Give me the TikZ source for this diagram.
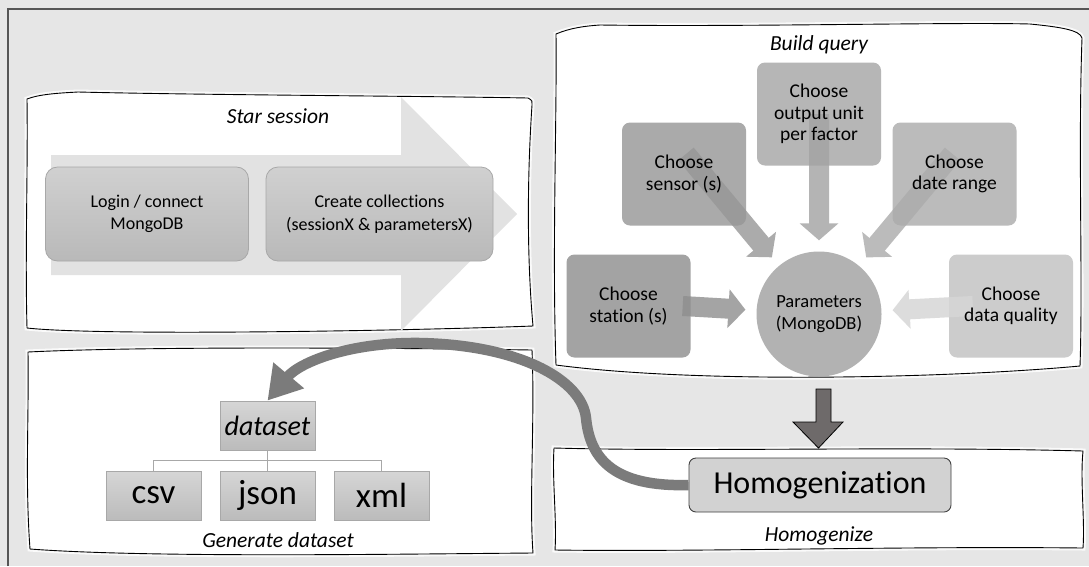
\documentclass[tikz,border=0pt]{standalone}
\usepackage{fontspec}
\setmainfont{Carlito}[Ligatures=CommonOff]
\usetikzlibrary{arrows.meta,calc,shapes.geometric}

\definecolor{bgcol}{HTML}{E6E6E6}
\definecolor{framecol}{HTML}{555555}
\definecolor{flowcol}{HTML}{E2E2E2}
\definecolor{stepline}{HTML}{A8A8A8}
\definecolor{curvecol}{HTML}{7B7B7B}
\definecolor{darkarrow}{HTML}{6E6A6A}
\definecolor{steptop}{HTML}{D0D0D0}
\definecolor{stepbot}{HTML}{B9B9B9}
\definecolor{filetop}{HTML}{D6D6D6}
\definecolor{filebot}{HTML}{BBBBBB}
\definecolor{cstation}{HTML}{A3A3A3}
\definecolor{csensor}{HTML}{AAAAAA}
\definecolor{cunit}{HTML}{B6B6B6}
\definecolor{crange}{HTML}{BBBBBB}
\definecolor{cquality}{HTML}{CCCCCC}
\definecolor{cparam}{HTML}{B2B2B2}
\definecolor{astation}{HTML}{8E8E8E}
\definecolor{asensor}{HTML}{969696}
\definecolor{aunit}{HTML}{A2A2A2}
\definecolor{arange}{HTML}{ABABAB}
\definecolor{aquality}{HTML}{D6D6D6}

\tikzset{
  sketch/.style={fill=white, draw=black, line width=0.9pt, line join=round},
  glow/.style={draw=white, line width=5pt, opacity=0.8},
  title/.style={font=\fontsize{21.5}{26}\selectfont\itshape},
  stepbox/.style={rounded corners=12pt, draw=stepline, line width=0.8pt,
    top color=steptop, bottom color=stepbot, minimum width=203pt, minimum height=94pt,
    align=center, font=\fontsize{18}{22.5}\selectfont},
  choicebox/.style={rounded corners=8pt, fill=#1, minimum width=124pt, minimum height=103pt},
  choicetext/.style={align=center, font=\fontsize{19.5}{21.5}\selectfont},
  radarrow/.style={line width=20pt, -{Triangle[length=17pt,width=38pt]}, draw=#1, shorten >=11pt},
  filebox/.style={draw=stepline, line width=0.8pt, top color=filetop, bottom color=filebot,
    minimum width=95pt, minimum height=49pt, inner sep=0pt},
  treeline/.style={draw=stepline, line width=0.9pt},
}

\begin{document}
\begin{tikzpicture}[x=1pt,y=-1pt]
\useasboundingbox (0,0) rectangle (1089,566);
% canvas and outer frame
\fill[bgcol] (0,0) rectangle (1089,566);
\draw[framecol, line width=1.2pt] (8,566) -- (8,9) -- (1089,9);

% ---------- hand drawn panels ----------
\def\starpanel{(27,99) .. controls (40,94) and (60,93) .. (78,92) .. controls (200,95) and (420,96) .. (528,98) .. controls (532,100) and (533,102) .. (532,105) .. controls (527,180) and (527,260) .. (533,326) .. controls (400,331) and (100,336) .. (27,328) .. controls (25,250) and (28,170) .. cycle}
\def\querypanel{(556,34) .. controls (570,28) and (585,26) .. (600,25) .. controls (750,27) and (950,22) .. (1030,24) .. controls (1060,27) and (1080,30) .. (1082,38) .. controls (1078,150) and (1083,280) .. (1080,366) .. controls (950,378) and (700,384) .. (556,365) .. controls (552,250) and (557,120) .. cycle}
\def\homopanel{(554,448) .. controls (700,452) and (900,446) .. (1083,451) .. controls (1080,480) and (1085,520) .. (1083,548) .. controls (900,546) and (700,552) .. (555,550) .. controls (557,520) and (552,480) .. cycle}
\def\genpanel{(28,352) .. controls (150,346) and (400,348) .. (532,350) .. controls (535,420) and (529,500) .. (533,553) .. controls (400,554) and (150,558) .. (30,549) .. controls (25,480) and (29,420) .. cycle}

\foreach \p in {\starpanel,\querypanel,\homopanel,\genpanel}{\path[glow] \p;}
\path[sketch] \starpanel;
\path[sketch] \querypanel;
\path[sketch] \homopanel;
\path[sketch] \genpanel;

% ---------- Star session ----------
\fill[flowcol] (51,155) -- (401,155) -- (401,97) -- (517,214) -- (401,331) -- (401,275) -- (51,275) -- cycle;
\node[title] (startitle) at (278,116) {Star session};
\node[stepbox] (login) at (147,214) {Login / connect\\MongoDB};
\node[stepbox, minimum width=227pt] (collect) at (379.5,214) {Create collections\\(sessionX \& parametersX)};

% ---------- Build query ----------
\node[title] (querytitle) at (819,45) {Build query};
\node[circle, fill=cparam, minimum size=125pt, inner sep=0pt] (param) at (819,314) {};
\node[choicebox=cstation] (station) at (628.5,306) {};
\node[choicebox=csensor] (sensor) at (684,174) {};
\node[choicebox=cunit] (unit) at (819,114) {};
\node[choicebox=crange] (range) at (954.5,174) {};
\node[choicebox=cquality] (quality) at (1011,306) {};

% block arrows feeding the parameters collection
\begin{scope}[transparency group, opacity=0.8]
  \draw[radarrow=astation] ([xshift=-8pt]station.east) -- (param);
\end{scope}
\begin{scope}[transparency group, opacity=0.8]
  \draw[radarrow=asensor] ([shift={(2pt,20pt)}]sensor.center) -- (param);
\end{scope}
\begin{scope}[transparency group, opacity=0.8]
  \draw[radarrow=aunit] (unit.center) -- (param);
\end{scope}
\begin{scope}[transparency group, opacity=0.8]
  \draw[radarrow=arange] ([shift={(-2pt,20pt)}]range.center) -- (param);
\end{scope}
\begin{scope}[transparency group, opacity=0.85]
  \draw[radarrow=aquality] ([xshift=24pt]quality.west) -- (param);
\end{scope}

% labels on top of the arrows
\node[choicetext, font=\fontsize{18.5}{21.5}\selectfont] (paramtext) at (param.center) {Parameters\\(MongoDB)};
\node[choicetext] (stationtext) at (station.center) {Choose\\station (s)};
\node[choicetext] (sensortext) at (sensor.center) {Choose\\sensor (s)};
\node[choicetext] (unittext) at (unit.center) {Choose\\output unit\\per factor};
\node[choicetext] (rangetext) at (range.center) {Choose\\date range};
\node[choicetext] (qualitytext) at (quality.center) {Choose\\data quality};

% ---------- Homogenize ----------
\node[draw=black!75, line width=0.9pt, rounded corners=7pt, fill=gray!35,
      minimum width=262pt, minimum height=54pt, font=\fontsize{32}{36}\selectfont]
      (homog) at (820,485) {Homogenization};
\node[title] (homotitle) at (819,536) {Homogenize};
\coordinate (qbottom) at (823.5,389);
\draw[fill=darkarrow, draw=black, line width=0.8pt, line join=miter]
  ([xshift=-7.5pt]qbottom) -- ++(15,0) -- ++(0,33) -- ++(12,0)
  -- ++(-24.5,26) -- ++(-25.5,-26) -- ++(23,0) -- cycle;

% ---------- Generate dataset ----------
\node[title] (gentitle) at (278,540) {Generate dataset};
\node[filebox, font=\fontsize{28}{30}\selectfont\itshape] (dataset) at (267.5,425.5) {dataset};
\node[filebox, font=\fontsize{35}{38}\selectfont] (csv) at (153.5,495.5) {csv};
\node[filebox, font=\fontsize{35}{38}\selectfont] (json) at (267.5,495.5) {json};
\node[filebox, font=\fontsize{35}{38}\selectfont] (xml) at (381.5,495.5) {xml};
\draw[treeline] (dataset.south) -- (json.north);
\draw[treeline] ([yshift=-10pt]dataset.south) -| (csv.north);
\draw[treeline] ([yshift=-10pt]dataset.south) -| (xml.north);

% ---------- return path to the dataset ----------
\draw[curvecol, line width=10.5pt, -{Triangle[length=33pt,width=38pt]}]
  (homog.west) .. controls (615,487) and (590,460) .. (586,418)
  .. controls (582,380) and (520,345) .. (420,343)
  .. controls (350,342) and (300,362) .. (dataset.north);
\end{tikzpicture}
\end{document}
